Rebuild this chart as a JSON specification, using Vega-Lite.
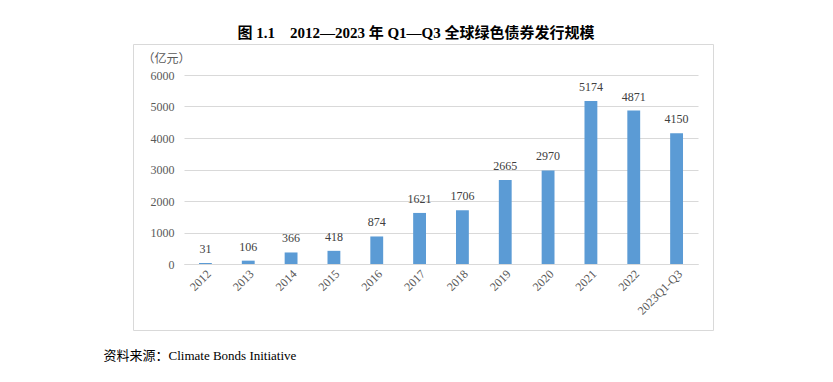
{
  "$schema": "https://vega.github.io/schema/vega-lite/v6.json",
  "autosize": "none",
  "width": 580,
  "height": 286,
  "padding": {"left": 133, "top": 44, "right": 120, "bottom": 52},
  "background": "white",
  "config": {
    "view": {"stroke": "#d9d9d9", "strokeWidth": 1},
    "font": "Liberation Serif, Noto Sans CJK SC, serif",
    "axis": {"labelFont": "Liberation Serif, Noto Sans CJK SC, serif", "titleFont": "Liberation Serif, Noto Sans CJK SC, serif"},
    "text": {"font": "Liberation Serif, Noto Sans CJK SC, serif"}
  },
  "title": {
    "text": "图 1.1　2012—2023 年 Q1—Q3 全球绿色债券发行规模",
    "font": "Liberation Serif, Noto Sans CJK SC, serif",
    "fontSize": 15,
    "fontWeight": "bold",
    "color": "#000000",
    "anchor": "middle",
    "dx": -7,
    "offset": 3
  },
  "data": {
    "values": [
      {"year": "2012", "value": 31},
      {"year": "2013", "value": 106},
      {"year": "2014", "value": 366},
      {"year": "2015", "value": 418},
      {"year": "2016", "value": 874},
      {"year": "2017", "value": 1621},
      {"year": "2018", "value": 1706},
      {"year": "2019", "value": 2665},
      {"year": "2020", "value": 2970},
      {"year": "2021", "value": 5174},
      {"year": "2022", "value": 4871},
      {"year": "2023Q1-Q3", "value": 4150}
    ]
  },
  "encoding": {
    "x": {
      "field": "year",
      "type": "nominal",
      "sort": null,
      "scale": {"range": [51, 565], "paddingInner": 0.7, "paddingOuter": 0.35},
      "axis": {
        "offset": -66,
        "title": "资料来源：Climate Bonds Initiative",
        "titleFontSize": 13,
        "titleFontWeight": "normal",
        "titleColor": "#000000",
        "titleAlign": "left",
        "titleAnchor": "start",
        "titleBaseline": "alphabetic",
        "titleX": -30,
        "titleY": 95,
        "labelAngle": -45,
        "labelAlign": "right",
        "labelBaseline": "top",
        "labelFontSize": 12,
        "labelColor": "#595959",
        "labelPadding": 4,
        "ticks": false,
        "domainColor": "#d9d9d9",
        "domainWidth": 1,
        "grid": false
      }
    },
    "y": {
      "field": "value",
      "type": "quantitative",
      "scale": {"domain": [0, 6000], "range": [220, 31], "nice": false},
      "axis": {
        "offset": -51,
        "values": [0, 1000, 2000, 3000, 4000, 5000, 6000],
        "format": "d",
        "title": "（亿元）",
        "titleAngle": 0,
        "titleAlign": "left",
        "titleBaseline": "alphabetic",
        "titleX": -42,
        "titleY": 18,
        "titleFontSize": 12,
        "titleFontWeight": "normal",
        "titleColor": "#595959",
        "domain": false,
        "ticks": false,
        "labelPadding": 10,
        "labelFontSize": 12,
        "labelColor": "#595959",
        "gridColor": "#d9d9d9",
        "gridWidth": 1
      }
    }
  },
  "layer": [
    {"mark": {"type": "bar", "color": "#5B9BD5"}},
    {
      "mark": {"type": "text", "baseline": "bottom", "dy": -7, "fontSize": 12, "color": "#404040"},
      "encoding": {"text": {"field": "value", "type": "quantitative"}}
    }
  ]
}
